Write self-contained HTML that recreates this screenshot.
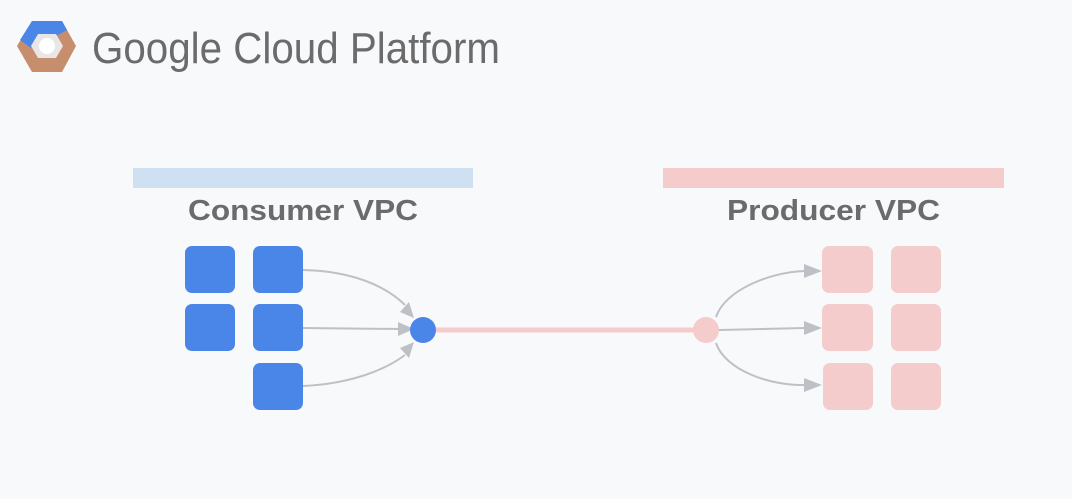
<!DOCTYPE html>
<html><head><style>
body{margin:0;width:1072px;height:494px;background:#f8f9fb;overflow:hidden;font-family:"Liberation Sans",sans-serif;}
</style></head><body>
<svg width="1072" height="494" xmlns="http://www.w3.org/2000/svg">
<!-- logo -->
<polygon points="32,21 62,21 76,46 62,72 32,72 17,46" fill="#c68e6c"/>
<path d="M32,21 L62,21 L67,30 L56,36 L38,36 L31,48 L20,40 Z" fill="#4a86e8"/>
<polygon points="38,34 56,34 63,46 56,58 38,58 31,46" fill="#e8e6e6"/>
<circle cx="47" cy="46" r="8" fill="#fff"/>
<text x="92" y="63" font-size="44" fill="#6b6b6b" font-family="Liberation Sans, sans-serif" textLength="408" lengthAdjust="spacingAndGlyphs">Google Cloud Platform</text>
<!-- bars -->
<rect x="133" y="168" width="340" height="20" fill="#cfe0f3"/>
<rect x="663" y="168" width="341" height="20" fill="#f4cccc"/>
<text x="188" y="220" font-size="29" font-weight="bold" fill="#6b6b6b" textLength="230" lengthAdjust="spacingAndGlyphs">Consumer VPC</text>
<text x="727" y="220" font-size="29" font-weight="bold" fill="#6b6b6b" textLength="213" lengthAdjust="spacingAndGlyphs">Producer VPC</text>
<!-- blue squares -->
<g fill="#4a86e8">
<rect x="185" y="246" width="50" height="47" rx="7"/>
<rect x="253" y="246" width="50" height="47" rx="7"/>
<rect x="185" y="304" width="50" height="47" rx="7"/>
<rect x="253" y="304" width="50" height="47" rx="7"/>
<rect x="253" y="363" width="50" height="47" rx="7"/>
</g>
<g fill="#f4cccc">
<rect x="822" y="246" width="51" height="47" rx="7"/>
<rect x="891" y="246" width="50" height="47" rx="7"/>
<rect x="822" y="304" width="51" height="47" rx="7"/>
<rect x="891" y="304" width="50" height="47" rx="7"/>
<rect x="823" y="363" width="50" height="47" rx="7"/>
<rect x="891" y="363" width="50" height="47" rx="7"/>
</g>
<!-- arrows -->
<g stroke="#bdc1c6" stroke-width="2" fill="none">
<path d="M303,270 C350,271 385,285 405,305"/>
<path d="M303,328 L400,329"/>
<path d="M303,386 C350,384 385,370 405,355"/>
<path d="M716,317 C725,290 770,272 805,271"/>
<path d="M719,330 L805,328"/>
<path d="M716,343 C725,370 770,386 805,385"/>
</g>
<g fill="#bdc1c6">
<polygon points="414,318 400,312 409,302"/>
<polygon points="414,329 398,322 398,336"/>
<polygon points="414,342 400,348 409,358"/>
<polygon points="822,271 804,264 804,278"/>
<polygon points="822,328 804,321 804,335"/>
<polygon points="822,385 804,378 804,392"/>
</g>
<line x1="436" y1="330" x2="706" y2="330" stroke="#f4cccc" stroke-width="5"/>
<circle cx="423" cy="330" r="13" fill="#4a86e8"/>
<circle cx="706" cy="330" r="13" fill="#f4cccc"/>
</svg>
</body></html>
